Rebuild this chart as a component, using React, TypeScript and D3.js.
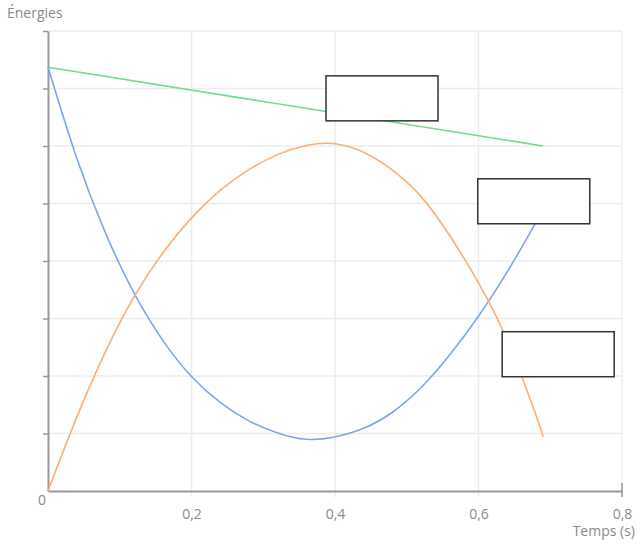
import React, { useEffect, useRef } from "react";
import * as d3 from "d3";

// time samples (s) shared by the two curved series
const timeS = [0, 0.04, 0.08, 0.12, 0.16, 0.2, 0.24, 0.28, 0.32, 0.36, 0.4, 0.44, 0.48, 0.52, 0.56, 0.6, 0.64, 0.68, 0.69];
// blue curve
const blueE = [7.37, 5.79, 4.49, 3.44, 2.62, 1.99, 1.54, 1.22, 1.01, 0.9, 0.94, 1.09, 1.37, 1.8, 2.37, 3.04, 3.81, 4.67, 4.9];
// orange curve
const orangeE = [0, 1.28, 2.42, 3.38, 4.14, 4.75, 5.23, 5.59, 5.85, 6.01, 6.04, 5.89, 5.58, 5.12, 4.44, 3.62, 2.62, 1.32, 0.94];
// green line (two end points)
const greenT = [0, 0.69];
const greenE = [7.37, 6.0];

const xTicks = [0.2, 0.4, 0.6, 0.8];
const yTicks = [0, 1, 2, 3, 4, 5, 6, 7, 8];

// empty label boxes, anchored at their top-left corner (t, E)
const boxT = [0.3875, 0.599, 0.633];
const boxE = [7.22, 5.43, 2.77];

const W = 637;
const H = 546;
const margin = { top: 31, right: 15, bottom: 55, left: 48 };
const FONT = "'Open Sans', Lato, sans-serif";
const TEXT = "#8a8a8a";

export default function App() {
  const svgRef = useRef<SVGSVGElement>(null);

  useEffect(() => {
    const svg = d3.select(svgRef.current);
    svg.selectAll("*").remove();

    const x = d3.scaleLinear().domain([0, 0.8]).range([margin.left, W - margin.right]);
    const y = d3.scaleLinear().domain([0, 8]).range([H - margin.bottom, margin.top]);

    // grid
    const grid = svg.append("g");
    grid.selectAll("line.v")
      .data(xTicks)
      .join("line")
      .attr("x1", (d) => x(d))
      .attr("x2", (d) => x(d))
      .attr("y1", y(8))
      .attr("y2", y(0) + 6)
      .attr("stroke", "#ececec")
      .attr("stroke-width", 1.5);
    grid.selectAll("line.h")
      .data(yTicks.slice(1))
      .join("line")
      .attr("x1", x(0))
      .attr("x2", x(0.8))
      .attr("y1", (d) => y(d))
      .attr("y2", (d) => y(d))
      .attr("stroke", "#ececec")
      .attr("stroke-width", 1.5);

    // y axis
    const yAxis = d3.axisLeft(y).tickValues(yTicks.slice(1)).tickSize(5).tickSizeOuter(0).tickFormat(() => "");
    const gy = svg.append("g").attr("transform", `translate(${x(0)},0)`).call(yAxis);
    gy.select(".domain").attr("stroke", "#999").attr("stroke-width", 2);
    gy.selectAll(".tick line").attr("stroke", "#999").attr("stroke-width", 1.5);

    // x axis
    const xAxis = d3.axisBottom(x).tickValues(xTicks).tickSize(0).tickSizeOuter(0)
      .tickFormat((d) => String(d).replace(".", ","));
    const gx = svg.append("g").attr("transform", `translate(0,${y(0)})`).call(xAxis);
    gx.select(".domain").attr("stroke", "#999").attr("stroke-width", 2);
    gx.selectAll(".tick text")
      .attr("dy", "1.75em")
      .attr("fill", TEXT)
      .attr("font-size", 14)
      .attr("font-family", FONT);
    // end marker at 0.8
    svg.append("line")
      .attr("x1", x(0.8)).attr("x2", x(0.8))
      .attr("y1", y(0) - 8).attr("y2", y(0) + 6)
      .attr("stroke", "#999").attr("stroke-width", 1.5);

    svg.append("text")
      .attr("x", x(0) - 2).attr("y", y(0) + 14)
      .attr("text-anchor", "end")
      .attr("fill", TEXT).attr("font-size", 14).attr("font-family", FONT)
      .text("0");
    svg.append("text")
      .attr("x", W - 2).attr("y", y(0) + 45)
      .attr("text-anchor", "end")
      .attr("fill", TEXT).attr("font-size", 14).attr("font-family", FONT)
      .text("Temps (s)");
    svg.append("text")
      .attr("x", 7).attr("y", 18)
      .attr("fill", TEXT).attr("font-size", 14).attr("font-family", FONT)
      .text("Énergies");

    // curves
    const line = d3.line<[number, number]>()
      .x((d) => x(d[0]))
      .y((d) => y(d[1]))
      .curve(d3.curveNatural);

    const series = [
      { t: greenT, e: greenE, color: "#6edc8b" },
      { t: timeS, e: blueE, color: "#7ca5ee" },
      { t: timeS, e: orangeE, color: "#ffad72" },
    ];
    series.forEach((s) => {
      svg.append("path")
        .datum(s.t.map((t, i) => [t, s.e[i]] as [number, number]))
        .attr("fill", "none")
        .attr("stroke", s.color)
        .attr("stroke-width", 1.6)
        .attr("d", line);
    });

    // empty label boxes
    svg.selectAll("rect.box")
      .data(boxT)
      .join("rect")
      .attr("x", (d) => x(d))
      .attr("y", (d, i) => y(boxE[i]))
      .attr("width", 112)
      .attr("height", 45)
      .attr("fill", "#fff")
      .attr("stroke", "#333")
      .attr("stroke-width", 1.5);
  }, []);

  return (
    <svg
      ref={svgRef}
      width={W}
      height={H}
      style={{ position: "absolute", left: 0, top: 0, background: "#fff" }}
    ></svg>
  );
}
